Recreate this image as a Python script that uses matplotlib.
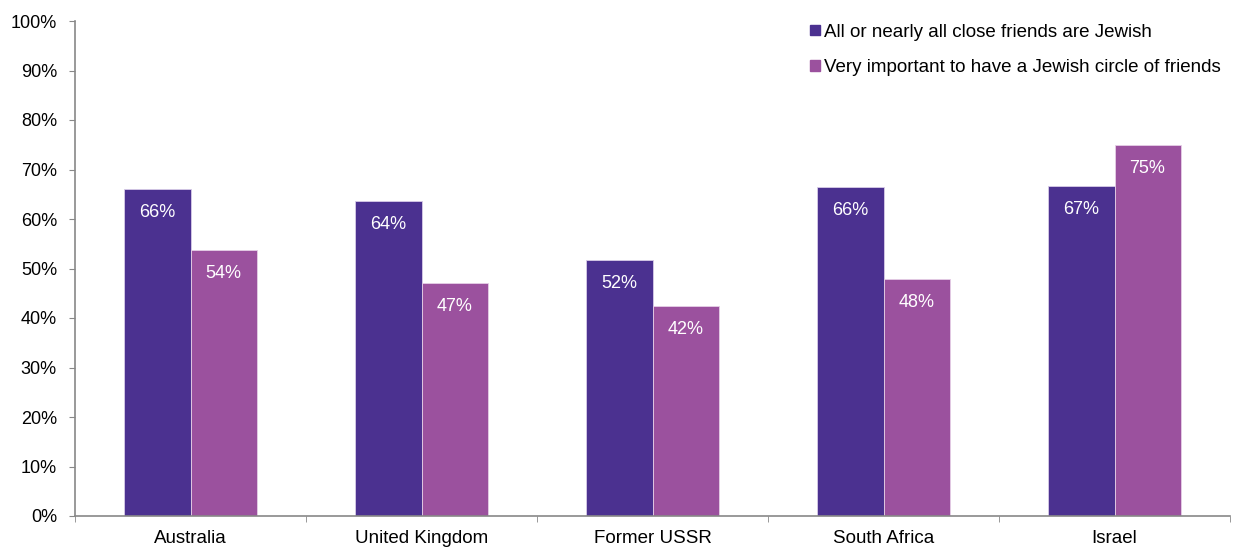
import matplotlib
matplotlib.use('Agg')

import matplotlib.pyplot as plt
import numpy as np
from matplotlib.patches import Patch

countries = ['Australia', 'United Kingdom', 'Former USSR', 'South Africa', 'Israel']
close_friends = [66, 63.6, 51.7, 66.4, 66.7]
circle_important = [53.7, 47.1, 42.4, 47.9, 74.9]
labels_close = ['66%', '64%', '52%', '66%', '67%']
labels_circle = ['54%', '47%', '42%', '48%', '75%']
series_names = ['All or nearly all close friends are Jewish',
                'Very important to have a Jewish circle of friends']

dark = '#4B3190'
light = '#9B519E'

plt.rcParams['font.family'] = ['Liberation Sans', 'DejaVu Sans']

fig = plt.figure(figsize=(12.34, 5.48), dpi=100)
ax = fig.add_axes([75/1234, 32/548, 1155/1234, 495/548])

x = np.arange(len(countries))
w = 0.286
b1 = ax.bar(x - w/2, close_friends, w, color=dark, edgecolor='#d8cce8', linewidth=0.6)
b2 = ax.bar(x + w/2, circle_important, w, color=light, edgecolor='#e6cfe6', linewidth=0.6)

for bars, labs in ((b1, labels_close), (b2, labels_circle)):
    for r, lab in zip(bars, labs):
        ax.annotate(lab, (r.get_x() + r.get_width()/2, r.get_height()),
                    xytext=(0, -17), textcoords='offset points',
                    ha='center', va='center', color='white', fontsize=13)

ax.set_xlim(-0.5, len(countries) - 0.5)
ax.set_ylim(0, 100)
ax.set_yticks(np.arange(0, 101, 10))
ax.set_yticklabels([f'{v}%' for v in range(0, 101, 10)])
ax.set_xticks(x)
ax.set_xticklabels(countries)
ax.set_xticks(np.arange(-0.5, len(countries), 1), minor=True)
ax.tick_params(axis='x', which='major', length=0, pad=10, labelsize=13.5)
ax.tick_params(axis='x', which='minor', length=4, color='#888888', direction='out')
ax.tick_params(axis='y', length=4, color='#888888', labelsize=13, pad=9)

for s in ('top', 'right'):
    ax.spines[s].set_visible(False)
for s in ('left', 'bottom'):
    ax.spines[s].set_color('#888888')
    ax.spines[s].set_linewidth(1.2)

handles = [Patch(color=dark), Patch(color=light)]
ax.legend(handles, series_names, loc='upper right', bbox_to_anchor=(1.007, 1.029),
          frameon=False, fontsize=13.5, handlelength=0.5, handleheight=0.5,
          handletextpad=0.25, labelspacing=1.0)

fig.savefig('out.png', dpi=100)
plt.close(fig)
